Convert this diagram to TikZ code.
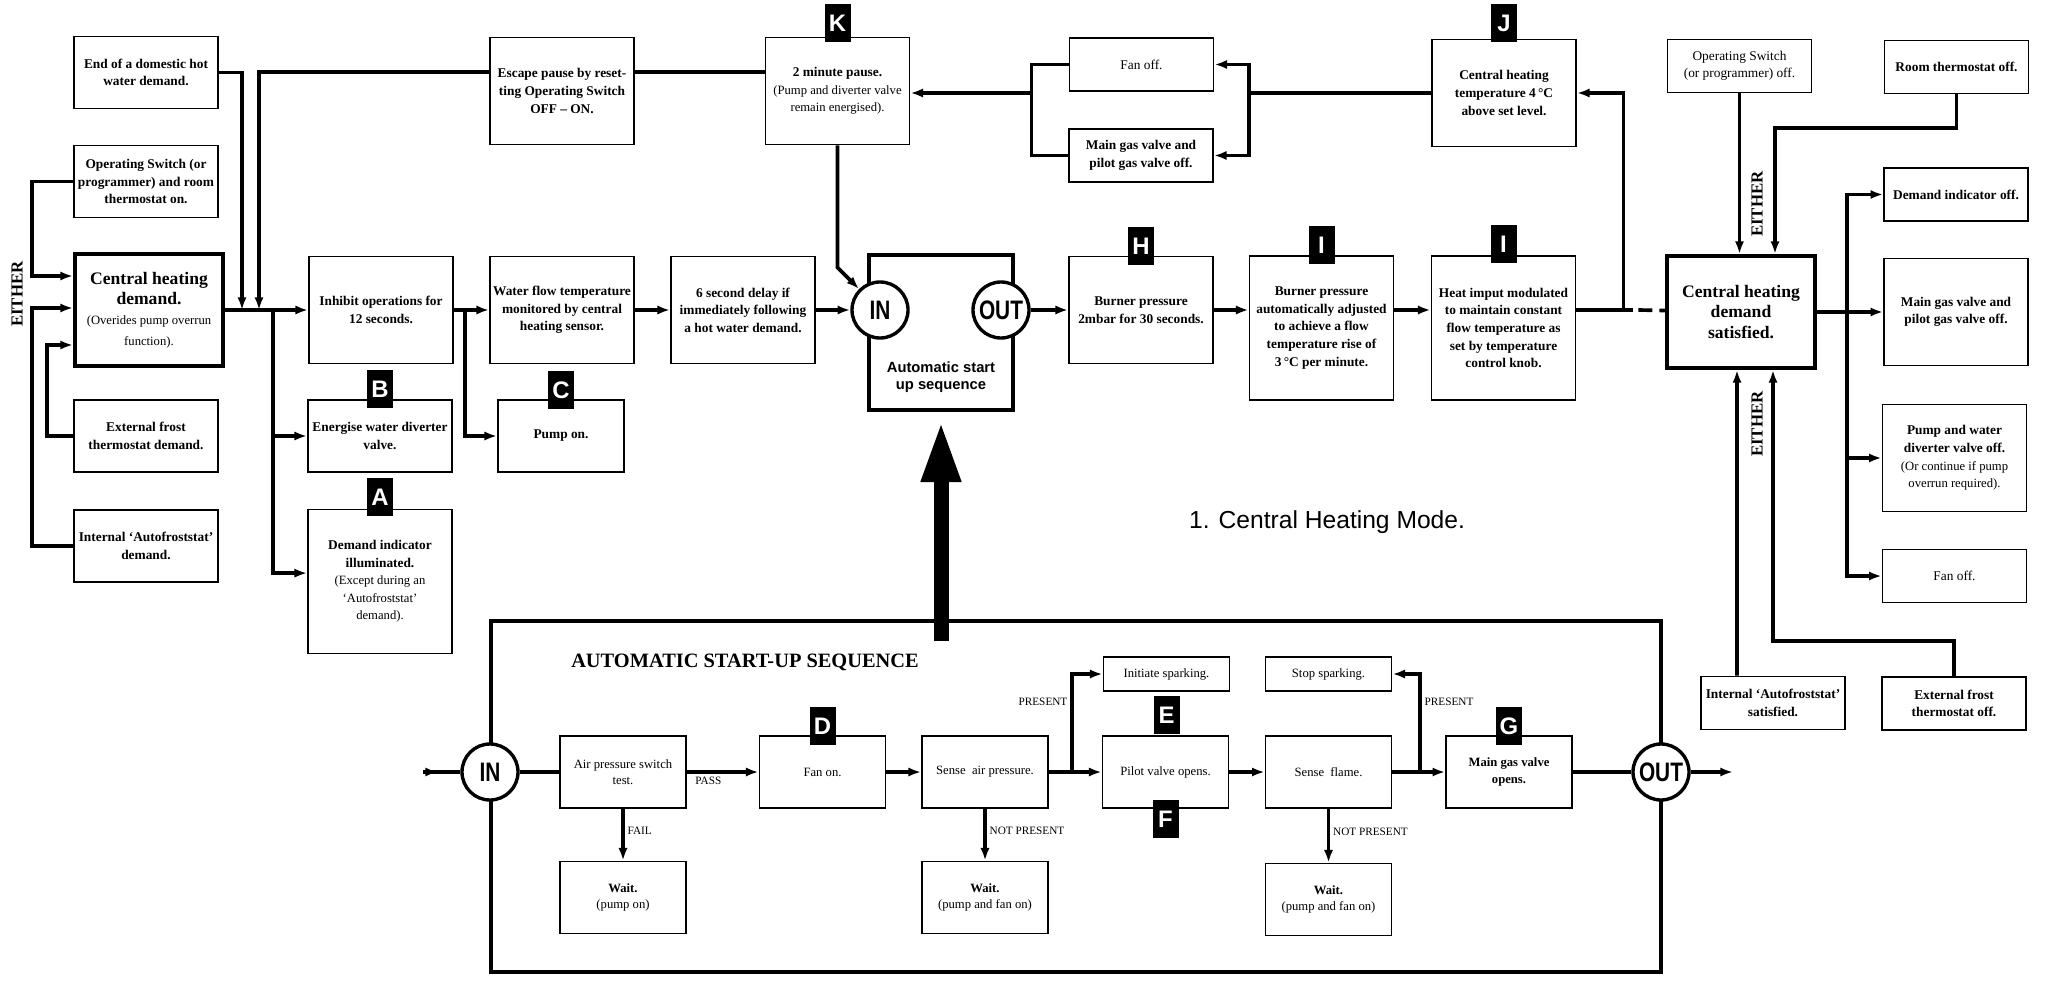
\documentclass[tikz,border=0pt]{standalone}
\usepackage{fontspec}
\setmainfont{Liberation Serif}
\setsansfont{Liberation Sans}
\usetikzlibrary{arrows.meta}
\newcommand{\chnote}[1]{{\mdseries\fontsize{9}{11}\selectfont #1}}
\newcommand{\narrow}[1]{\scalebox{0.78}[1]{#1}}

\begin{document}
\begin{tikzpicture}[x=0.025cm, y=-0.025cm,
    box/.style={draw, line width=1.2pt, align=center, inner sep=1pt, minimum width=3.6cm, minimum height=2.68cm, font=\bfseries\fontsize{9.5}{12.5}\selectfont},
    shortbox/.style={box, minimum height=1.8cm},
    slimbox/.style={box, minimum height=1.33cm},
    tallbox/.style={box, minimum height=3.6cm},
    mainbox/.style={box, line width=2.8pt, minimum width=3.7cm, minimum height=2.8cm, font=\bfseries\fontsize{12.5}{14.5}\selectfont},
    stepbox/.style={draw, line width=1.2pt, align=center, inner sep=1pt, minimum width=3.15cm, minimum height=1.8cm, font=\fontsize{9}{11.5}\selectfont},
    sparkbox/.style={stepbox, minimum height=0.85cm},
    lettertag/.style={fill=black, text=white, anchor=south, inner sep=0pt, minimum width=0.65cm, minimum height=0.95cm, font=\sffamily\bfseries\fontsize{17}{17}\selectfont},
    port/.style={circle, draw, fill=white, line width=2.4pt, inner sep=0pt, minimum size=1.4cm, font=\sffamily\bfseries\fontsize{19}{19}\selectfont},
    link/.style={line width=2.6pt},
    flow/.style={link, -{Latex[length=9pt, width=6.5pt]}},
    either/.style={rotate=90, font=\bfseries\fontsize{12}{12}\selectfont},
    cond/.style={font=\fontsize{8}{8}\selectfont, inner sep=2pt}]
    \useasboundingbox (0,0) rectangle (2045,984);

    \node[shortbox] (hw) at (146,72.5) {End of a domestic hot\\water demand.};
    \node[shortbox] (opsw) at (146,181.5) {Operating Switch (or\\programmer) and room\\thermostat on.};
    \node[mainbox] (chd) at (149,310) {Central heating\\demand.\\\chnote{(Overides pump overrun}\\\chnote{function).}};
    \node[shortbox] (extf) at (146,436) {External frost\\thermostat demand.};
    \node[shortbox] (intf) at (146,546) {Internal `Autofroststat'\\demand.};
    \node[either] (either1) at (17,294) {EITHER};

    \node[box] (inh) at (381,310) {Inhibit operations for\\12 seconds.};
    \node[shortbox] (div) at (380,436) {Energise water diverter\\valve.};
    \node[tallbox] (ind) at (380,581.5) {Demand indicator\\illuminated.\\\chnote{(Except during an}\\\chnote{`Autofroststat'}\\\chnote{demand).}};
    \node[box] (esc) at (562,91) {Escape pause by reset-\\ting Operating Switch\\OFF -- ON.};
    \node[box] (wflow) at (562,310) {Water flow temperature\\monitored by central\\heating sensor.};
    \node[shortbox, minimum width=3.15cm] (pump) at (561,436) {Pump on.};
    \node[box] (delay) at (743,310) {6 second delay if\\immediately following\\a hot water demand.};
    \node[box] (pause) at (837.5,91) {2 minute pause.\\\chnote{(Pump and diverter valve}\\\chnote{remain energised).}};

    \node[draw, line width=2.8pt, minimum width=3.6cm, minimum height=3.875cm] (auto) at (941,332.5) {};
    \node[align=center, font=\sffamily\bfseries\fontsize{10.5}{12.5}\selectfont] (autotext) at (941,377) {Automatic start\\up sequence};
    \node[port] (in) at (880,310) {\narrow{IN}};
    \node[port] (out) at (1001,310) {\narrow{OUT}};

    \node[slimbox, font=\fontsize{9.5}{12.5}\selectfont] (fan) at (1141.5,64.5) {Fan off.};
    \node[slimbox] (gas) at (1141,155.5) {Main gas valve and\\pilot gas valve off.};
    \node[box] (over) at (1504,93) {Central heating\\temperature 4\,°C\\above set level.};
    \node[box] (burn) at (1141,310) {Burner pressure\\2mbar for 30 seconds.};
    \node[tallbox] (adj) at (1321.5,328) {Burner pressure\\automatically adjusted\\to achieve a flow\\temperature rise of\\3\,°C per minute.};
    \node[tallbox] (mod) at (1503.5,328) {Heat imput modulated\\to maintain constant\\flow temperature as\\set by temperature\\control knob.};

    \node[slimbox, font=\fontsize{9.5}{12.5}\selectfont] (opoff) at (1739.5,66) {Operating Switch\\(or programmer) off.};
    \node[slimbox] (roomoff) at (1956.5,67) {Room thermostat off.};
    \node[mainbox] (sat) at (1741,312) {Central heating\\demand\\satisfied.};
    \node[slimbox] (indoff) at (1956,194.5) {Demand indicator off.};
    \node[box] (gasoff) at (1956,312) {Main gas valve and\\pilot gas valve off.};
    \node[box] (pumpoff) at (1954.5,458) {Pump and water\\diverter valve off.\\\chnote{(Or continue if pump}\\\chnote{overrun required).}};
    \node[slimbox, font=\fontsize{9.5}{12.5}\selectfont] (fanoff) at (1954.5,576) {Fan off.};
    \node[slimbox] (intsat) at (1773,703) {Internal `Autofroststat'\\satisfied.};
    \node[slimbox] (extoff) at (1954,703.5) {External frost\\thermostat off.};
    \node[either] (either2) at (1757,204) {EITHER};
    \node[either] (either3) at (1757,424) {EITHER};

    \node[font=\sffamily\fontsize{17.5}{17.5}\selectfont] (mode) at (1327,522) {1. Central Heating Mode.};

    \draw[line width=3.5pt] (491,621) rectangle (1661,972);
    \node[font=\bfseries\fontsize{14.5}{14.5}\selectfont] (seqtitle) at (745,662) {AUTOMATIC START-UP SEQUENCE};
    \node[port] (sin) at (490,772) {\narrow{IN}};
    \node[port] (sout) at (1661,772) {\narrow{OUT}};
    \node[stepbox] (apt) at (623,772) {Air pressure switch\\test.};
    \node[stepbox] (fanon) at (822.5,772) {Fan on.};
    \node[stepbox] (sair) at (985,772) {Sense~ air pressure.};
    \node[stepbox] (wait1) at (623,897.5) {\textbf{Wait.}\\(pump on)};
    \node[stepbox] (wait2) at (985,897.5) {\textbf{Wait.}\\(pump and fan on)};
    \node[sparkbox] (spark) at (1166.5,674) {Initiate sparking.};
    \node[stepbox] (pilot) at (1165.5,772) {Pilot valve opens.};
    \node[stepbox] (flame) at (1328.5,772) {Sense~ flame.};
    \node[stepbox] (wait3) at (1328.5,899.5) {\textbf{Wait.}\\(pump and fan on)};
    \node[sparkbox] (stop) at (1328.5,674) {Stop sparking.};
    \node[stepbox, font=\bfseries\fontsize{9}{11.5}\selectfont] (main) at (1509,772) {Main gas valve\\opens.};

    \node[lettertag] (taga) at ([yshift=-0.2cm]ind.north) {A};
    \node[lettertag] (tagb) at ([yshift=-0.23cm]div.north) {B};
    \node[lettertag] (tagc) at ([yshift=-0.25cm]pump.north) {C};
    \node[lettertag] (tagd) at ([yshift=-0.25cm]fanon.north) {D};
    \node[lettertag, anchor=north] (tage) at ([yshift=-0.1cm]spark.south) {E};
    \node[lettertag, anchor=north] (tagf) at ([yshift=0.23cm]pilot.south) {F};
    \node[lettertag] (tagg) at ([yshift=-0.25cm]main.north) {G};
    \node[lettertag] (tagh) at ([yshift=-0.25cm]burn.north) {H};
    \node[lettertag] (tagi) at ([yshift=-0.23cm]adj.north) {I};
    \node[lettertag] (tagii) at ([yshift=-0.2cm]mod.north) {I};
    \node[lettertag] (tagj) at ([yshift=-0.1cm]over.north) {J};
    \node[lettertag] (tagk) at ([yshift=-0.15cm]pause.north) {K};

    \coordinate (hwjoin) at (242,310);
    \coordinate (escjoin) at (259,310);
    \coordinate (split1) at (273,310);
    \coordinate (split2) at (465,310);
    \coordinate (merge) at (1032,93);
    \coordinate (roomturn) at (1775,128);
    \coordinate (split3) at (1847,312);
    \coordinate (extturn) at (1773,641);
    \coordinate (lift) at (941,641);
    \coordinate (feed) at (423,772);
    \coordinate (drain) at (1733,772);
    \coordinate (spk) at (1072,772);
    \coordinate (stp) at (1420,772);

    \draw[flow] (opsw.west) -- ++(-41,0) |- ([yshift=0.85cm]chd.west);
    \draw[flow] (intf.west) -- ++(-41,0) |- ([yshift=0.05cm]chd.west);
    \draw[flow] (extf.west) -- ++(-26,0) |- ([yshift=-0.875cm]chd.west);
    \draw[flow] (chd) -- (inh);
    \draw[flow] (hw.east) -| (hwjoin);
    \draw[flow] ([yshift=0.475cm]esc.west) -| (escjoin);
    \draw[link] ([yshift=0.475cm]pause.west) -- ([yshift=0.475cm]esc.east);
    \draw[flow] (split1) |- (div);
    \draw[flow] (split1) |- ([yshift=0.21cm]ind.west);
    \draw[flow] (inh) -- (wflow);
    \draw[flow] (split2) |- (pump);
    \draw[flow] (wflow) -- (delay);
    \draw[flow] (delay) -- (in);
    \draw[flow] (pause.south) -- ++(0,122) -- (in.135);
    \draw[flow] (out) -- (burn);
    \draw[flow] (burn) -- (burn -| adj.west);
    \draw[flow] (adj.east |- burn) -- (burn -| mod.west);
    \draw[flow] (mod.east |- burn) -- ++(47,0) |- (over);
    \draw[link] (mod.east |- burn) -- ++(57,0);
    \draw[link, dash pattern=on 10pt off 5pt] (mod.east |- burn) ++(62,0) -- (sat);
    \draw[flow] (over.west) -- ++(-182,0) |- (fan);
    \draw[flow] (over.west) -- ++(-182,0) |- (gas);
    \draw[link] (fan.west) -- ++(-37,0) |- (gas.west);
    \draw[flow] (merge) -- (pause.east |- merge);

    \draw[flow] (opoff) -- (opoff |- sat.north);
    \draw[flow] (roomoff) |- (roomturn) -- (roomturn |- sat.north);
    \draw[flow] (sat) -- (gasoff);
    \draw[flow] (split3) |- (indoff);
    \draw[flow] (split3) |- (pumpoff);
    \draw[flow] (split3) |- (fanoff);
    \draw[flow] ([xshift=-0.9cm]intsat.north) -- ([xshift=-0.1cm]sat.south);
    \draw[flow] (extoff) |- (extturn) -- (extturn |- sat.south);

    \draw[line width=0.375cm, -{Triangle[length=1.55cm, width=0.9cm]}, shorten >=0.2cm] (lift) -- (auto);

    \draw[link] (feed) -- (sin);
    \draw[flow] (feed) -- ++(15,0);
    \draw[link] (sin) -- (apt);
    \draw[flow] (apt) -- node[cond, below, pos=0.3] {PASS} (fanon);
    \draw[flow] (apt) -- node[cond, right, pos=0.42] {FAIL} (wait1);
    \draw[flow] (fanon) -- (sair);
    \draw[flow] (sair) -- node[cond, right, pos=0.42] {NOT PRESENT} (wait2);
    \draw[flow] (sair) -- (pilot);
    \draw[flow] (spk) |- node[cond, left, pos=0.36] {PRESENT} (spark);
    \draw[flow] (pilot) -- (flame);
    \draw[flow] (flame) -- node[cond, right, pos=0.42] {NOT PRESENT} (wait3);
    \draw[flow] (flame) -- (main);
    \draw[flow] (stp) |- node[cond, right, pos=0.36] {PRESENT} (stop);
    \draw[link] (main) -- (sout);
    \draw[flow] (sout) -- (drain);
\end{tikzpicture}
\end{document}
